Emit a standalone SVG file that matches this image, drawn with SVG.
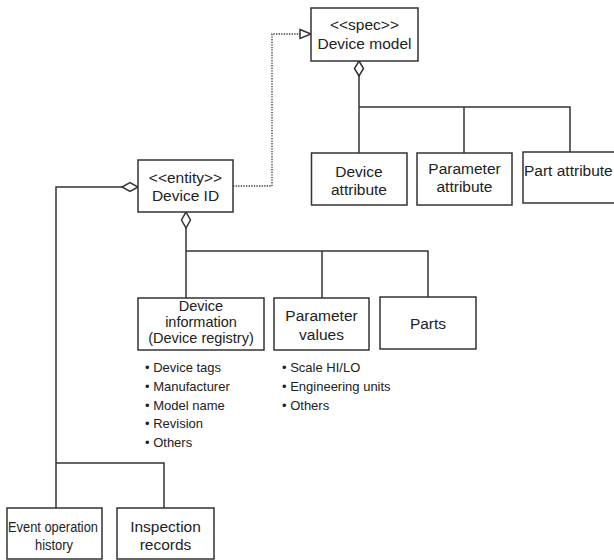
<svg xmlns="http://www.w3.org/2000/svg" width="614" height="560" viewBox="0 0 614 560">
<style>
.box{fill:#fff;stroke:#333;stroke-width:1.5}
.t{font-family:"Liberation Sans",Arial,sans-serif;font-size:15.5px;fill:#222;text-anchor:middle}
.s{font-size:14.5px}
.b{font-family:"Liberation Sans",Arial,sans-serif;font-size:13px;fill:#222}
.ln{fill:none;stroke:#333;stroke-width:1.5}
.dot{fill:none;stroke:#333;stroke-width:1.3;stroke-dasharray:1.3 1.3}
.dia{fill:#fff;stroke:#333;stroke-width:1.5}
</style>
<rect width="614" height="560" fill="#fff"/>
<g id="connectors">
  <polyline class="dot" points="233,186 272,186 272,34 300,34"/>
  <polygon class="dia" points="300,29.5 311,34 300,38.5"/>
  <polyline class="ln" points="359,76 359,153"/>
  <polyline class="ln" points="359,107 570,107 570,152"/>
  <polyline class="ln" points="464,107 464,153"/>
  <polygon class="dia" points="359,61 363.5,68.5 359,76 354.5,68.5"/>
  <polyline class="ln" points="186,228 186,298"/>
  <polyline class="ln" points="186,251 428,251 428,297"/>
  <polyline class="ln" points="322,251 322,298"/>
  <polygon class="dia" points="186,212 190.5,220 186,228 181.5,220"/>
  <polyline class="ln" points="122,187 56,187 56,508"/>
  <polyline class="ln" points="56,463 164,463 164,508"/>
  <polygon class="dia" points="138,187 130,191.5 122,187 130,182.5"/>
</g>
<g id="device-model">
  <rect class="box" x="311" y="8" width="107" height="53"/>
  <text class="t" x="364.5" y="29.5">&lt;&lt;spec&gt;&gt;</text>
  <text class="t" x="364.5" y="49">Device model</text>
</g>
<g id="device-attribute">
  <rect class="box" x="311.5" y="153" width="95.5" height="52"/>
  <text class="t" x="359" y="177">Device</text>
  <text class="t" x="359" y="195">attribute</text>
</g>
<g id="parameter-attribute">
  <rect class="box" x="417" y="153" width="95" height="52"/>
  <text class="t" x="464.5" y="174">Parameter</text>
  <text class="t" x="464.5" y="192">attribute</text>
</g>
<g id="part-attribute">
  <rect class="box" x="523" y="152" width="100" height="51"/>
  <text class="t" x="524" y="176" style="text-anchor:start">Part attribute</text>
</g>
<g id="device-id">
  <rect class="box" x="138" y="160" width="95" height="52"/>
  <text class="t" x="185.5" y="183">&lt;&lt;entity&gt;&gt;</text>
  <text class="t" x="185.5" y="201">Device ID</text>
</g>
<g id="device-information">
  <rect class="box" x="138" y="298" width="126" height="52"/>
  <text class="t s" x="201" y="311">Device</text>
  <text class="t s" x="201" y="327">information</text>
  <text class="t s" x="201" y="343">(Device registry)</text>
  <text class="b" x="145" y="372">• Device tags</text>
  <text class="b" x="145" y="391">• Manufacturer</text>
  <text class="b" x="145" y="409.5">• Model name</text>
  <text class="b" x="145" y="428">• Revision</text>
  <text class="b" x="145" y="447">• Others</text>
</g>
<g id="parameter-values">
  <rect class="box" x="274" y="298" width="95" height="52"/>
  <text class="t" x="321.5" y="321">Parameter</text>
  <text class="t" x="321.5" y="339.5">values</text>
  <text class="b" x="282" y="372">• Scale HI/LO</text>
  <text class="b" x="282" y="391">• Engineering units</text>
  <text class="b" x="282" y="409.5">• Others</text>
</g>
<g id="parts">
  <rect class="box" x="380" y="297" width="96" height="52"/>
  <text class="t" x="428" y="329">Parts</text>
</g>
<g id="event-operation-history">
  <rect class="box" x="7" y="508" width="95" height="51"/>
  <text class="t" x="53" y="532" textLength="90" lengthAdjust="spacingAndGlyphs">Event operation</text>
  <text class="t" x="54" y="550" textLength="38" lengthAdjust="spacingAndGlyphs">history</text>
</g>
<g id="inspection-records">
  <rect class="box" x="117" y="508" width="97" height="51"/>
  <text class="t" x="165.5" y="532">Inspection</text>
  <text class="t" x="165.5" y="550">records</text>
</g>
</svg>
